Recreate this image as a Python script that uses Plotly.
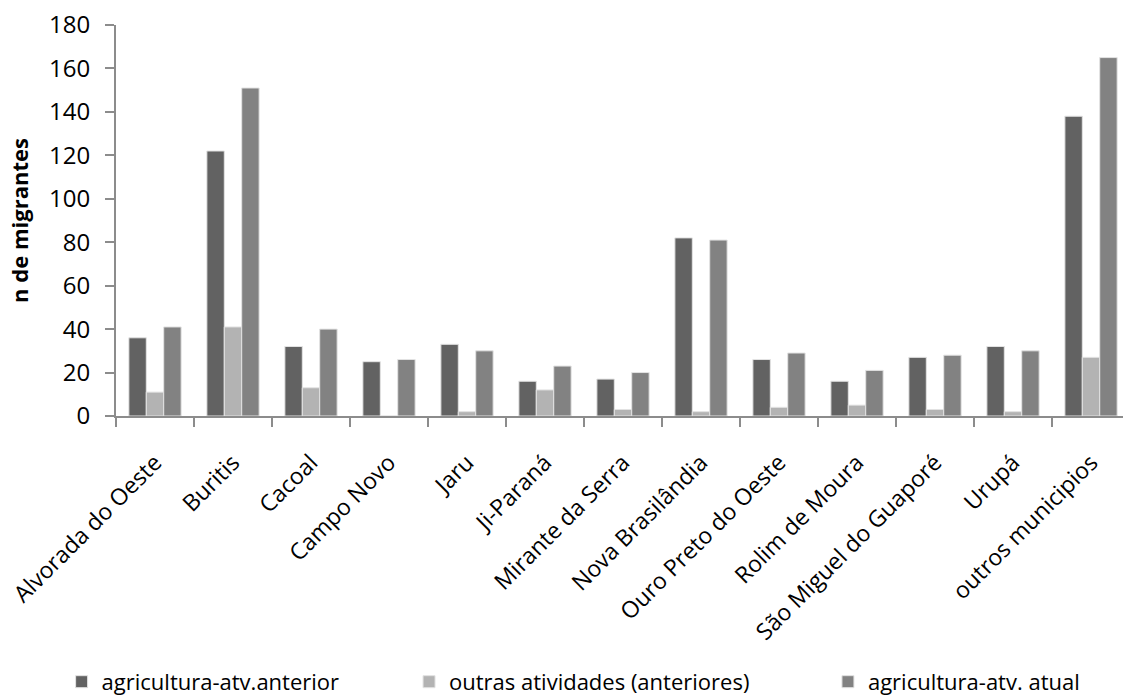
import plotly.graph_objects as go

categories = [
    "Alvorada do Oeste", "Buritis", "Cacoal", "Campo Novo", "Jaru", "Ji-Paraná",
    "Mirante da Serra", "Nova Brasilândia", "Ouro Preto do Oeste", "Rolim de Moura",
    "São Miguel do Guaporé", "Urupá", "outros municipios",
]
agric_anterior = [36, 122, 32, 25, 33, 16, 17, 82, 26, 16, 27, 32, 138]
outras_anteriores = [11, 41, 13, 0, 2, 12, 3, 2, 4, 5, 3, 2, 27]
agric_atual = [41, 151, 40, 26, 30, 23, 20, 81, 29, 21, 28, 30, 165]

series_names = ["agricultura-atv.anterior", "outras atividades (anteriores)", "agricultura-atv. atual"]
series_values = [agric_anterior, outras_anteriores, agric_atual]
series_colors = ["#626262", "#b3b3b3", "#828282"]
legend_ids = ["legend", "legend2", "legend3"]
legend_x = [-0.054, 0.291, 0.707]

FONT = "Open Sans"
AXIS_GRAY = "#8c8c8c"

fig = go.Figure()
for name, vals, col, lg in zip(series_names, series_values, series_colors, legend_ids):
    fig.add_trace(go.Bar(
        x=categories, y=vals, name=name, legend=lg,
        marker=dict(color=col, line=dict(color="#e3e3e3", width=1)),
    ))

legend_style = dict(
    orientation="h", xanchor="left", y=-0.68, yanchor="middle",
    font=dict(family=FONT, size=22, color="#000000"),
    bgcolor="rgba(0,0,0,0)",
    itemclick=False, itemdoubleclick=False,
)

fig.update_layout(
    width=1123, height=700,
    margin=dict(l=116, r=0, t=25, b=284, autoexpand=False),
    paper_bgcolor="white", plot_bgcolor="white",
    barmode="group", bargap=0.33, bargroupgap=0,
    font=dict(family=FONT, color="#000000"),
    showlegend=True,
    **{lg: dict(legend_style, x=lx) for lg, lx in zip(legend_ids, legend_x)},
)

fig.update_xaxes(
    type="category", range=[-0.5, 12.41], automargin=False,
    showline=True, linecolor=AXIS_GRAY, linewidth=2,
    ticks="outside", tickson="boundaries", ticklen=9, tickcolor=AXIS_GRAY, tickwidth=2,
    tickangle=-45, tickfont=dict(family=FONT, size=23, color="#000000"),
    ticklabelstandoff=22,
    showgrid=False, zeroline=False,
)
fig.update_yaxes(
    range=[0, 180], dtick=20, automargin=False,
    showline=True, linecolor=AXIS_GRAY, linewidth=2,
    ticks="outside", ticklen=9, tickcolor=AXIS_GRAY, tickwidth=2,
    tickfont=dict(family=FONT, size=24, color="#000000"),
    ticklabelstandoff=10,
    showgrid=False, zeroline=False,
    title=dict(text="<b>n de migrantes</b>", font=dict(family=FONT, size=22, color="#000000"), standoff=14),
)

fig.write_html("out.html")
